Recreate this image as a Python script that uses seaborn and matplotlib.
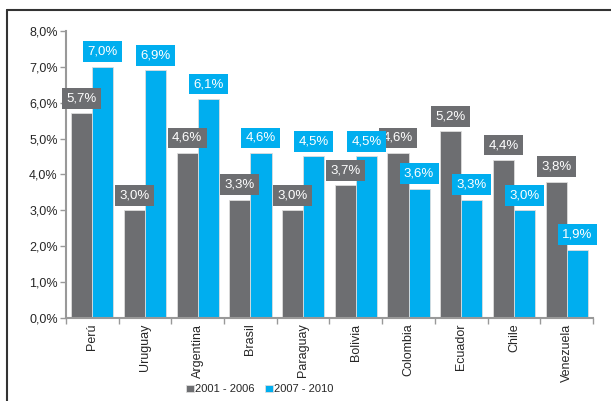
import pandas as pd
import numpy as np
import matplotlib.pyplot as plt
import seaborn as sns
from matplotlib.lines import Line2D
from matplotlib.ticker import FuncFormatter

# Datos
paises = ['Perú', 'Uruguay', 'Argentina', 'Brasil', 'Paraguay', 'Bolivia',
          'Colombia', 'Ecuador', 'Chile', 'Venezuela']
periodo_1 = [5.7, 3.0, 4.6, 3.3, 3.0, 3.7, 4.6, 5.2, 4.4, 3.8]
periodo_2 = [7.0, 6.9, 6.1, 4.6, 4.5, 4.5, 3.6, 3.3, 3.0, 1.9]
series = ['2001 - 2006', '2007 - 2010']
colores = ['#6D6E71', '#00AEEF']

df = pd.DataFrame({
    'Pais': paises * 2,
    'Valor': periodo_1 + periodo_2,
    'Periodo': [series[0]] * len(paises) + [series[1]] * len(paises),
})

sns.set_style('white')
plt.rcParams['font.family'] = ['Liberation Sans', 'DejaVu Sans']

fig = plt.figure(figsize=(6.11, 4.01), dpi=100)
ax = fig.add_axes([0.108, 0.207, 0.8625, 0.716])

sns.barplot(data=df, x='Pais', y='Valor', hue='Periodo', palette=colores,
            order=paises, hue_order=series, width=0.8, saturation=1, ax=ax,
            edgecolor='#dddddd', linewidth=0.6, legend=True)

# Etiquetas de valor con fondo del color de la serie
for cont, col in zip(ax.containers, colores):
    labels = [f"{b.get_height():.1f}%".replace('.', ',') for b in cont]
    ax.bar_label(cont, labels=labels, padding=6.5, color='white', fontsize=9.5,
                 bbox=dict(boxstyle='square,pad=0.33', fc=col, ec='none'))

ax.set_ylim(0, 8)
ax.set_xlim(-0.5, len(paises) - 0.5)
ax.set_yticks(np.arange(0, 8.1, 1))
ax.yaxis.set_major_formatter(FuncFormatter(lambda v, p: f"{v:.1f}%".replace('.', ',')))
ax.set_xlabel('')
ax.set_ylabel('')
ax.tick_params(axis='y', labelsize=9, left=True, length=4, width=1, color='#999999', pad=2)
ax.tick_params(axis='x', labelsize=9, rotation=90, length=0, pad=4)
ax.set_xticks(np.arange(-0.5, len(paises), 1), minor=True)
ax.tick_params(axis='x', which='minor', bottom=True, length=4, width=1, color='#999999')

for s in ['top', 'right']:
    ax.spines[s].set_visible(False)
for s in ['left', 'bottom']:
    ax.spines[s].set_color('#999999')
    ax.spines[s].set_linewidth(1.5)

handles, _ = ax.get_legend_handles_labels()
ax.legend(handles, series, loc='lower center', bbox_to_anchor=(0.425, 0.0),
          bbox_transform=fig.transFigure, ncol=2, frameon=False, fontsize=8,
          handlelength=0.7, handleheight=0.7, handletextpad=0.1, columnspacing=1.0,
          borderaxespad=0.2)

# Marco de la figura
fig.add_artist(Line2D([7 / 611, 1], [1 - 10 / 401, 1 - 10 / 401],
                      transform=fig.transFigure, color='#333333', lw=1.5))
fig.add_artist(Line2D([7 / 611, 7 / 611], [0, 1 - 10 / 401],
                      transform=fig.transFigure, color='#333333', lw=1.5))

fig.savefig('out.png', dpi=100)
